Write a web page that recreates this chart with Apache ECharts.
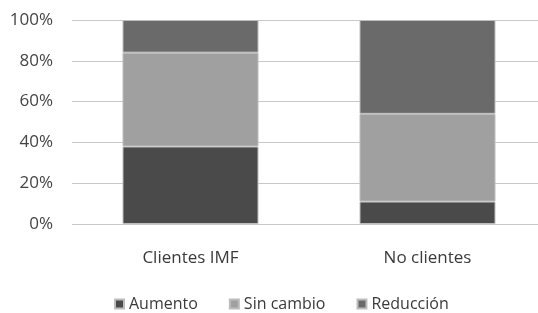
<!DOCTYPE html>
<html>
<head>
<meta charset="utf-8">
<script src="https://cdn.jsdelivr.net/npm/echarts@6/dist/echarts.min.js"></script>
<style>
  html, body { margin: 0; padding: 0; background: #fff; overflow: hidden; }
  #chart { width: 548px; height: 313px; }
</style>
</head>
<body>
<div id="chart"></div>
<script>
// datos
const categories = ['Clientes IMF', 'No clientes']
const aumento = [38, 11]
const sinCambio = [46, 43]
const reduccion = [16, 46]
const yTicks = [0, 20, 40, 60, 80, 100]

// el gráfico original está recortado a la derecha
const chart = echarts.init(document.getElementById('chart'))

const font = '"Open Sans", "DejaVu Sans", sans-serif'
const barBorder = { borderColor: '#bdbdbd', borderWidth: 1 }

chart.setOption({
    animation: false,
    backgroundColor: '#fff',
    grid: { left: 72, right: 2, top: 20, bottom: 89 },
    legend: {
        data: ['Aumento', 'Sin cambio', 'Reducción'],
        left: 114,
        top: 296,
        padding: 0,
        itemWidth: 9,
        itemHeight: 9,
        itemGap: 31,
        icon: 'rect',
        textStyle: { fontFamily: font, fontSize: 16, color: '#3a3a3a' }
    },
    xAxis: {
        type: 'category',
        data: categories,
        axisLine: { show: false },
        axisTick: { show: false },
        axisLabel: { fontFamily: font, fontSize: 17, color: '#3a3a3a', margin: 26 }
    },
    yAxis: {
        type: 'value',
        min: 0,
        max: 100,
        interval: 20,
        axisLine: { show: false },
        axisTick: { show: false },
        axisLabel: {
            fontFamily: font, fontSize: 17, color: '#444', margin: 19,
            formatter: v => yTicks.includes(v) ? v + '%' : ''
        },
        splitLine: { lineStyle: { color: '#c8c8c8', width: 1.2 } }
    },
    series: [
        { name: 'Aumento', type: 'bar', stack: 't', data: aumento, barWidth: 136, itemStyle: { color: '#4a4a4a', ...barBorder } },
        { name: 'Sin cambio', type: 'bar', stack: 't', data: sinCambio, itemStyle: { color: '#a0a0a0', ...barBorder } },
        { name: 'Reducción', type: 'bar', stack: 't', data: reduccion, itemStyle: { color: '#6a6a6a', ...barBorder } }
    ]
})
</script>
</body>
</html>
